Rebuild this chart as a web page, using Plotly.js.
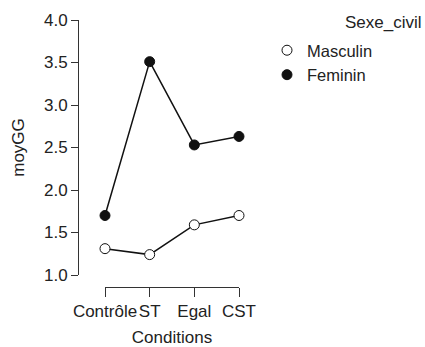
<!DOCTYPE html>
<html>
<head>
<meta charset="utf-8">
<script src="https://cdn.plot.ly/plotly-3.0.1.min.js"></script>
<style>html,body{margin:0;padding:0;background:#fff;}#chart{width:425px;height:347px;}</style>
</head>
<body>
<div id="chart"></div>
<script>
const conditions = ["Contrôle", "ST", "Egal", "CST"];
const masculin = [1.31, 1.24, 1.59, 1.70];
const feminin = [1.70, 3.51, 2.53, 2.63];
const yTicks = [1.0, 1.5, 2.0, 2.5, 3.0, 3.5, 4.0];
const legendTitle = "Sexe_civil";

const W = 425, H = 347;
const font = {family: "Liberation Sans, Arial, sans-serif", size: 17, color: "#222"};

const traces = [
  {
    x: conditions, y: masculin, name: "Masculin", type: "scatter", mode: "lines+markers",
    line: {color: "#111", width: 1.5},
    marker: {color: "#fff", size: 10, line: {color: "#111", width: 1}},
    cliponaxis: false
  },
  {
    x: conditions, y: feminin, name: "Feminin", type: "scatter", mode: "lines+markers",
    line: {color: "#111", width: 1.5},
    marker: {color: "#111", size: 10, line: {color: "#111", width: 1}},
    cliponaxis: false
  }
];

const layout = {
  width: W, height: H,
  margin: {l: 0, r: 0, t: 0, b: 0, pad: 0},
  paper_bgcolor: "#fff", plot_bgcolor: "#fff",
  font: font,
  showlegend: true,
  xaxis: {
    type: "category",
    domain: [105 / W, 239 / W],
    range: [0, 3],
    anchor: "free",
    position: (H - 287) / H,
    showline: true, linecolor: "#333", linewidth: 1,
    ticks: "outside", ticklen: 9, tickcolor: "#333", tickwidth: 1,
    tickangle: 0,
    showgrid: false, zeroline: false,
    tickfont: font,
    title: {text: "Conditions", font: font, standoff: 16}
  },
  yaxis: {
    domain: [(H - 275) / H, (H - 20) / H],
    range: [1, 4],
    tickvals: yTicks,
    tickformat: ".1f",
    anchor: "free",
    position: 78 / W,
    showline: true, linecolor: "#333", linewidth: 1,
    ticks: "outside", ticklen: 7, tickcolor: "#333", tickwidth: 1,
    showgrid: false, zeroline: false,
    tickfont: font,
    title: {text: "moyGG", font: font, standoff: 14}
  },
  legend: {
    x: 267 / W, xanchor: "left",
    y: (H - 33) / H, yanchor: "top",
    font: Object.assign({}, font, {size: 16.5}), bgcolor: "rgba(0,0,0,0)",
    borderwidth: 0
  },
  annotations: [
    {text: legendTitle, xref: "paper", yref: "paper", x: 424 / W, y: (H - 22) / H,
     xanchor: "right", yanchor: "middle", showarrow: false, font: font}
  ]
};

Plotly.newPlot("chart", traces, layout, {displayModeBar: false, staticPlot: true}).then(function (gd) {
  gd.querySelectorAll(".legend .js-line").forEach(function (el) { el.style.display = "none"; });
});
</script>
</body>
</html>
